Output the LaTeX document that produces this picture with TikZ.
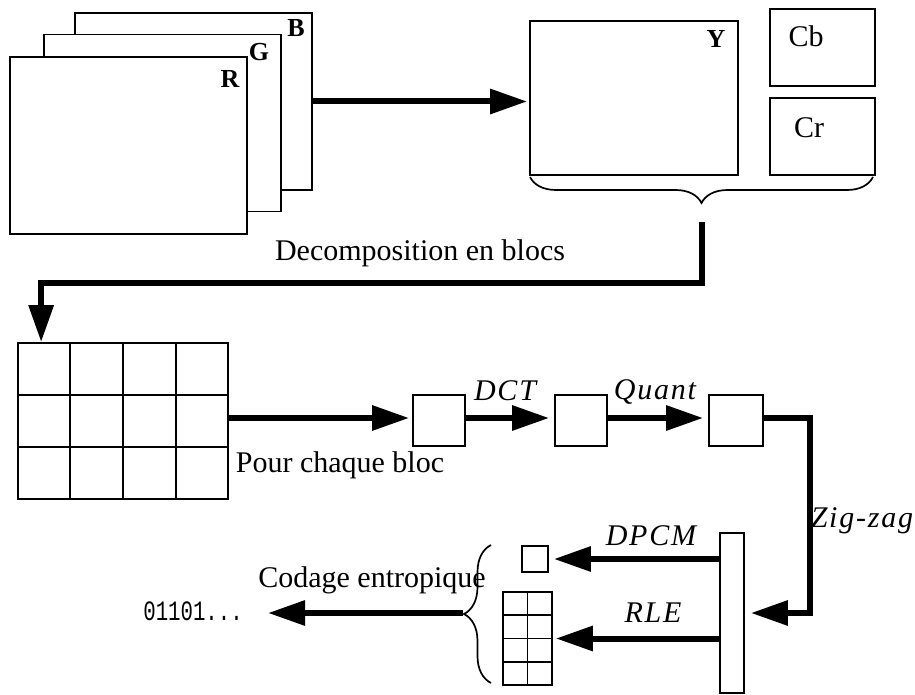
\documentclass[tikz,border=0pt]{standalone}
\usepackage{fontspec}
\setmainfont{Liberation Serif}
\setmonofont{Liberation Mono}
\newfontfamily\spacedserif[LetterSpace=6]{Liberation Serif}
\usetikzlibrary{arrows.meta, calc, decorations.pathreplacing}

\begin{document}
\begin{tikzpicture}[
        x=1pt, y=-1pt,
        plane/.style={rectangle, draw, line width=1.7pt, fill=white, minimum width=237pt, minimum height=177pt, inner sep=0},
        box/.style={rectangle, draw, line width=1.7pt, inner sep=0},
        cell/.style={line width=1.7pt},
        flow/.style={-{Triangle[length=37pt, width=24pt]}, line width=6pt},
        tag/.style={font=\fontsize{26}{30}\selectfont\bfseries, inner sep=0},
        txt/.style={font=\fontsize{30}{36}\selectfont, inner sep=0, anchor=base},
        op/.style={font=\fontsize{30}{36}\selectfont\spacedserif\itshape, inner sep=0, anchor=base},
        brc/.style={decorate, line width=1.7pt}
    ]
        \useasboundingbox (0,0) rectangle (915,695);

        % RGB planes
        \node[plane] (B) at (193.5,101.5) {};
        \node[plane] (G) at (162.5,123) {};
        \node[plane] (R) at (128.5,145.5) {};
        \node[tag] (Blbl) at (296,28) {B};
        \node[tag] (Glbl) at (259,52) {G};
        \node[tag] (Rlbl) at (230,79) {R};

        % YCbCr planes
        \node[box, minimum width=208pt, minimum height=154pt] (Y) at (634,98) {};
        \node[box, minimum width=105pt, minimum height=77pt] (Cb) at (822.5,47.5) {};
        \node[box, minimum width=105pt, minimum height=77pt] (Cr) at (822.5,136.5) {};
        \node[tag] (Ylbl) at (716,39) {Y};
        \node[txt] (Cblbl) at (806,47) {Cb};
        \node[txt] (Crlbl) at (809,138) {Cr};
        \draw[flow, shorten >=2pt] (B.east) -- (B.east -| Y.west);
        \draw[brc, decoration={brace, amplitude=26pt}] (873,177) -- (530,177);
        \coordinate (split) at (702,222);

        % Decomposition en blocs
        \node[box, minimum width=210pt, minimum height=156pt] (grid) at (123,421) {};
        \foreach \i in {1,2,3}
            \draw[cell] ($(grid.north west)!\i/4!(grid.north east)$) -- ($(grid.south west)!\i/4!(grid.south east)$);
        \foreach \j in {1,2}
            \draw[cell] ($(grid.north west)!\j/3!(grid.south west)$) -- ($(grid.north east)!\j/3!(grid.south east)$);
        \draw[flow] (split) -- ++(0,61) -| ([xshift=24pt]grid.north west);
        \node[txt] (declbl) at (420,260) {Decomposition en blocs};

        % Pour chaque bloc: DCT, Quant
        \node[box, minimum width=52pt, minimum height=51pt] (blk1) at (439,420.5) {};
        \node[box, minimum width=52pt, minimum height=51pt] (blk2) at (581,420.5) {};
        \node[box, minimum width=54pt, minimum height=51pt] (blk3) at (736,420.5) {};
        \draw[flow, shorten >=3pt] (grid.east |- 0,418) -- (blk1.west |- 0,418);
        \draw[flow, shorten >=5pt] (blk1.east |- 0,418) -- (blk2.west |- 0,418);
        \draw[flow, shorten >=5pt] (blk2.east |- 0,418) -- (blk3.west |- 0,418);
        \node[txt] (pourlbl) at (340,472) {Pour chaque bloc};
        \node[op] (dctlbl) at (505,400) {DCT};
        \node[op] (quantlbl) at (655,399) {Quant};

        % Zig-zag
        \node[box, minimum width=24pt, minimum height=160pt] (bar) at (732,613) {};
        \draw[flow, shorten >=6pt] (blk3.east |- 0,418) -- (810,418) |- (bar.east);
        \node[op] (ziglbl) at (862,527) {Zig-zag};

        % DPCM, RLE
        \node[box, minimum width=26pt, minimum height=26pt] (dc) at (535,559) {};
        \node[box, minimum width=49pt, minimum height=93pt] (rl) at (527.5,638.5) {};
        \draw[cell] ($(rl.north west)!0.5!(rl.north east)$) -- ($(rl.south west)!0.5!(rl.south east)$);
        \foreach \j in {1,2,3}
            \draw[cell] ($(rl.north west)!\j/4!(rl.south west)$) -- ($(rl.north east)!\j/4!(rl.south east)$);
        \draw[flow, shorten >=5pt] (bar.west |- dc) -- (dc.east);
        \draw[flow, shorten >=3pt] (bar.west |- rl) -- (rl.east);
        \node[op] (dpcmlbl) at (651,545) {DPCM};
        \node[op] (rlelbl) at (653,622) {RLE};

        % Codage entropique
        \draw[brc, decoration={brace, amplitude=27pt}] (491,683) -- (491,545);
        \coordinate (ebrace) at (463,613);
        \node[font=\fontsize{28}{32}\selectfont\ttfamily, inner sep=0, anchor=base east] (bits) at (243,620) {\scalebox{0.74}[1]{01101...}};
        \draw[flow, shorten >=25pt] (ebrace) -- (ebrace -| bits.east);
        \node[txt] (codlbl) at (372,587) {Codage entropique};

    \end{tikzpicture}
\end{document}
